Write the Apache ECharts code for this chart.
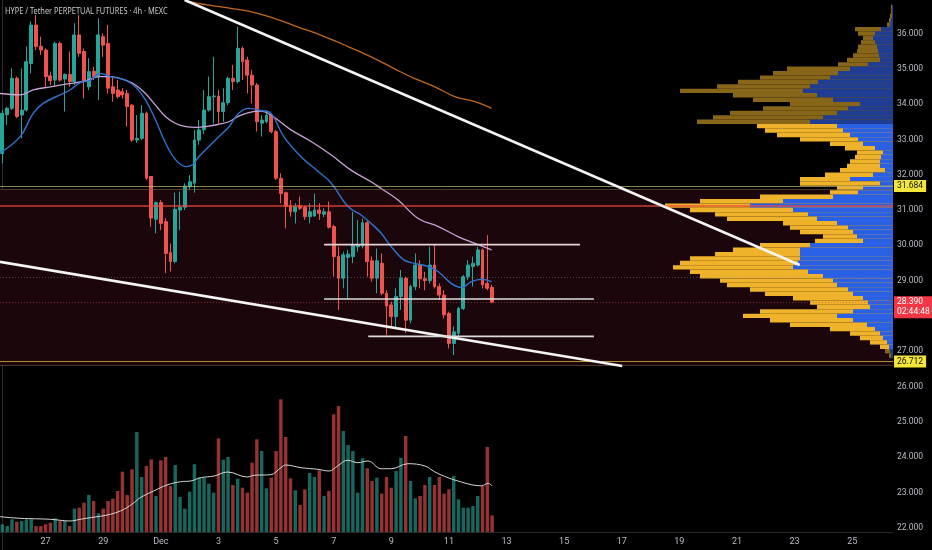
<!DOCTYPE html>
<html><head><meta charset="utf-8">
<script src="https://cdn.jsdelivr.net/npm/echarts@6/dist/echarts.min.js"></script>
<style>html,body{margin:0;padding:0;background:#000;}#c{width:932px;height:550px;}</style>
</head><body><div id="c"></div>
<script>
// ---- candles (4h bars, first bar = Nov 25 12:00) ----
const opens  = [32.60,33.70,33.88,34.73,33.69,33.83,35.15,36.24,35.64,35.53,34.80,34.68,35.72,34.71,34.84,34.64,35.96,35.49,34.49,34.93,34.78,35.91,35.72,34.49,34.40,34.35,34.30,33.97,32.98,33.03,33.74,31.95,30.74,31.21,30.67,29.79,29.54,31.00,31.08,31.66,31.76,32.98,33.27,33.83,34.21,34.23,33.79,34.04,34.73,34.64,35.58,35.25,34.82,34.54,33.46,33.50,33.69,33.22,31.90,31.49,31.12,30.95,31.12,31.08,30.81,30.83,31.00,30.88,30.95,30.53,29.68,29.07,29.66,29.68,29.96,29.98,30.64,29.56,29.07,29.49,28.64,28.31,27.98,28.55,29.07,27.88,28.83,29.44,29.05,29.00,29.44,28.83,28.59,28.07,27.22,27.51,28.21,29.11,29.40,29.44,29.87,28.92,28.81];
const closes = [33.74,33.88,34.73,33.65,33.83,35.20,36.24,35.63,35.53,34.78,34.66,35.72,34.68,34.84,34.64,35.96,35.44,34.64,34.92,34.78,35.96,35.67,34.45,34.30,34.21,34.26,33.93,32.98,33.03,33.74,31.90,30.77,31.21,30.62,29.77,29.54,31.02,31.08,31.68,31.80,32.98,33.27,33.83,34.21,34.23,33.79,34.04,34.73,34.64,35.58,35.20,34.82,34.54,33.50,33.55,33.69,33.22,31.90,31.47,31.10,30.95,31.10,31.05,30.81,30.95,31.00,30.90,30.95,30.51,29.68,29.07,29.73,29.75,30.01,30.01,30.64,29.54,29.07,29.56,28.64,28.28,27.98,28.55,29.07,27.88,28.83,29.44,29.05,29.00,29.44,28.83,28.59,28.03,27.22,27.55,28.21,29.11,29.44,29.49,29.87,28.88,28.78,28.39];
const lows   = [32.32,33.41,33.83,33.60,33.03,33.79,34.87,35.53,35.39,34.49,34.54,34.49,34.64,33.79,34.49,34.54,35.34,34.16,34.40,34.68,34.12,35.34,34.30,34.07,34.16,34.16,33.36,32.93,32.90,32.98,31.85,30.53,30.34,30.43,29.21,29.26,29.49,30.43,31.00,31.57,31.49,32.85,33.15,33.79,33.45,33.45,33.50,33.97,34.40,34.59,34.68,34.30,34.02,33.22,33.08,33.45,33.17,31.85,31.19,30.48,30.81,30.62,31.00,30.72,30.62,30.81,30.72,30.80,30.48,29.11,28.17,28.78,28.50,29.49,29.82,29.91,29.11,28.97,28.64,28.59,27.46,27.70,27.65,28.17,27.51,27.79,28.73,28.78,28.73,28.92,28.78,28.45,27.93,27.08,26.89,27.41,28.17,29.02,28.83,29.40,28.78,28.73,28.36];
const highs  = [33.83,33.93,35.01,34.78,35.01,35.63,36.34,36.52,35.91,35.58,34.92,35.77,35.77,34.87,35.49,36.29,36.52,35.58,35.30,35.06,36.43,36.00,36.24,34.78,34.68,34.45,34.40,34.00,33.69,33.97,33.79,31.95,31.24,31.28,30.77,30.05,31.49,31.52,31.76,31.99,33.27,33.55,34.40,34.78,35.34,34.40,34.45,34.78,35.11,36.19,35.63,35.34,34.97,34.60,33.69,33.83,33.74,33.27,32.04,31.52,31.28,31.19,31.38,31.12,31.19,31.47,31.19,31.05,31.24,30.58,29.96,29.82,29.87,30.95,30.72,30.76,30.72,29.68,29.91,29.77,28.73,28.40,28.78,29.30,29.11,28.88,29.77,29.58,29.25,29.96,30.01,28.92,28.73,28.12,27.70,28.26,29.16,29.58,29.68,29.96,29.91,30.29,28.88];
const volumes = [7.7,6,12.7,10.3,11,12.7,12.7,6,6,7.7,9.3,13.7,11,11,6,23.3,24.3,29.3,37,31,18.7,23.3,31,33.3,41,60.3,37,62.7,100,55,66,72.7,36,71.7,75,46,67,35,23.3,40.3,67.7,54.3,54.3,48.3,39.3,93.7,72.3,75,47,53.3,44.3,39.3,69.3,92.7,81,43.7,54.3,81,132.7,95,53.7,41.7,27,42.7,59,55,61.7,36,41,117.7,126,101,87,81,39.3,73.7,63.7,51,54.3,38.3,55,44.3,61,74.3,96,51,33.7,36,47,55,47,55,38.3,42.7,56,32.7,24.3,24.3,26,36,46,85,16.7];

// ---- indicator lines, read as [bar index, value] ----
const maFast = [[-0.5,32.62],[3.7,33.08],[6.4,33.74],[8.5,34.02],[12.0,34.26],[14.1,34.40],[16.2,34.61],[18.3,34.68],[20.4,34.87],[22.5,34.78],[25.6,34.68],[27.7,34.49],[29.8,34.12],[31.9,33.55],[34.0,32.89],[36.1,32.42],[38.2,32.23],[39.6,32.28],[40.9,32.51],[43.0,32.80],[45.1,33.08],[47.2,33.36],[49.2,33.74],[51.3,33.88],[53.8,33.82],[55.9,33.74],[58.6,33.08],[62.2,32.51],[65.8,32.09],[68.5,31.76],[72.0,31.10],[74.7,30.86],[76.8,30.62],[78.9,30.34],[81.0,29.96],[83.7,29.58],[85.8,29.49],[88.7,29.40],[90.8,29.25],[93.5,28.92],[95.6,28.80],[97.7,28.97],[99.8,29.04],[101.9,28.97]];
const maSlow = [[-0.5,34.30],[3.7,34.26],[6.4,34.40],[10,34.49],[13.5,34.57],[16.8,34.64],[20.4,34.78],[22.5,34.78],[25.6,34.68],[27.7,34.54],[29.8,34.30],[31.9,33.97],[34.0,33.64],[36.1,33.45],[38.2,33.36],[40.3,33.34],[42.3,33.36],[45.1,33.43],[47.2,33.50],[49.2,33.66],[51.3,33.76],[53.8,33.80],[55.9,33.69],[60.1,33.27],[64.3,32.94],[68.5,32.56],[72.6,32.13],[76.8,31.80],[78.9,31.61],[82.4,31.28],[86.6,30.76],[90.8,30.53],[95.0,30.24],[98.3,30.06],[101.9,29.87]];
const maLong = [[38.5,36.92],[42.7,36.81],[47.6,36.71],[51.7,36.62],[56.6,36.43],[61.5,36.19],[67.1,35.91],[72.0,35.63],[76.8,35.34],[81.7,35.00],[85.9,34.72],[90.1,34.49],[94.2,34.21],[98.4,34.07],[101.9,33.88]];
const volMa = [[-0.5,15.3],[3.7,13.7],[10,12.7],[14.1,11],[16.2,12.7],[18.3,14.3],[22.5,17.7],[25.3,22.7],[27.4,29.3],[28.7,34.3],[31.5,41],[34.3,47],[37.1,50.3],[39.2,51],[41.3,54.3],[44.1,56],[46.9,60],[51,55],[52.4,56.7],[55.9,57.3],[58,64.3],[59,67],[62.2,64.3],[65.7,62.7],[68.1,61],[69.8,66],[71.9,71.7],[74,69.3],[76.1,71],[78.9,63.3],[81,63.3],[84.5,68.3],[88,66],[90,60.3],[92.8,54.3],[95.6,50],[98.4,46.7],[99.8,46.3],[101.2,48.7],[102,46]];

// ---- drawings ----
const upperTrend = [[37.95,36.95],[166.07,29.44]];
const lowerTrend = [[-0.5,29.53],[129.1,26.58]];
const levelSegA = [[67.0,30.02],[120.3,30.02]];
const levelSegB = [[67.0,28.48],[123.2,28.48]];
const levelSegC = [[76.2,27.42],[123.2,27.42]];
const zoneTop = 31.59, zoneBottom = 26.60;
const levelHigh = 31.684, levelLow = 26.712, pocLine = 31.11, lastPrice = 28.39, prevLine = 29.10;
const countdown = '02:44:48';

// ---- volume profile (rows from 36.75 downward, step 0.125) ----
const profileTop = 36.75, profileStep = 0.125;
const profileTotal = [2,2,3,4,6,38,35,30,32,35,36,40,46,55,106,120,133,155,176,213,160,140,103,130,163,180,196,136,128,116,93,63,48,36,38,43,46,53,68,93,93,56,63,133,193,228,203,178,166,110,103,93,70,78,133,160,178,203,213,220,203,193,173,166,143,128,100,83,76,133,150,123,103,63,43,33,23,13,8,4];
const profileUp    = [1,1,1,2,3,12,18,20,18,16,15,14,13,25,43,55,63,75,83,90,76,60,33,45,56,70,83,56,50,43,35,30,18,10,12,13,13,8,20,43,13,30,35,60,110,143,100,85,76,56,45,40,36,30,83,93,93,93,95,100,85,70,60,56,45,40,30,25,23,40,56,40,26,18,13,10,6,4,3,2];
const vaHigh = 33.40, vaLow = 27.05;

// ---- time axis ----
const tickLabels = ['27','29','Dec','3','5','7','9','11','13','15','17','19','21','23','25'];
const slots = 186, firstTick = 9, ticksEvery = 12;
const cats = [];
for (let i = 0; i < slots; i++) cats.push('');
tickLabels.forEach((t, k) => { cats[firstTick + k * ticksEvery] = t; });

const UP = '#26a69a', DOWN = '#ef5350';
const candleData = opens.map((o, i) => [o, closes[i], lows[i], highs[i]]);
const volData = volumes.map((v, i) => ({
  value: v,
  itemStyle: { color: closes[i] >= opens[i] ? 'rgba(38,166,154,0.62)' : 'rgba(239,83,80,0.62)' }
}));
const profileData = profileTotal.map((t, k) => {
  const p = profileTop - k * profileStep;
  return [p, profileUp[k], t, (p <= vaHigh && p >= vaLow) ? 1 : 0];
});

const chart = echarts.init(document.getElementById('c'));
const F = 'Roboto, "Noto Sans", sans-serif';
const lineLbl = (txt, bg, fg, dy) => ({
  show: true, position: 'end', formatter: txt, distance: 1, offset: [0, dy || 0],
  backgroundColor: bg, color: fg, fontSize: 8.5, fontFamily: F, padding: [1, 3, 1, 3], lineHeight: 10
});

chart.setOption({
  backgroundColor: '#000',
  animation: false,
  graphic: [{
    type: 'text', x: 5, y: 6, z: 100, scaleX: 0.78,
    style: { text: 'HYPE / Tether PERPETUAL FUTURES · 4h · MEXC', fill: '#c9c9c9', font: '9.5px "Noto Sans", sans-serif' }
  }],
  grid: [
    { left: 0, right: 39, top: -1.8, bottom: -13, outerBoundsMode: 'none', containLabel: false },
    { left: 0, right: 39, top: 380, bottom: 18, outerBoundsMode: 'none', containLabel: false },
    { left: 650, right: 39, top: -1.8, bottom: -13, outerBoundsMode: 'none', containLabel: false }
  ],
  xAxis: [
    { type: 'category', gridIndex: 0, data: cats, show: false, boundaryGap: true },
    { type: 'value', gridIndex: 0, min: -0.5, max: slots - 0.5, show: false },
    { type: 'category', gridIndex: 1, data: cats, boundaryGap: true,
      axisLine: { show: true, lineStyle: { color: '#2a2a2a' } }, axisTick: { show: false },
      axisLabel: { color: '#b8bcc6', fontSize: 9, fontFamily: F, margin: 5,
        interval: (idx, val) => val !== '' } },
    { type: 'value', gridIndex: 1, min: -0.5, max: slots - 0.5, show: false },
    { type: 'value', gridIndex: 2, min: 0, max: 243, inverse: true, show: false }
  ],
  yAxis: [
    { type: 'value', gridIndex: 0, position: 'right', min: 21, max: 37, interval: 1,
      axisLine: { show: true, lineStyle: { color: '#2a2e39' } }, axisTick: { show: false },
      splitLine: { show: false },
      axisLabel: { color: '#b8bcc6', fontSize: 8.5, fontFamily: F, margin: 4,
        formatter: v => (v < 22 || v > 36) ? '' : v.toFixed(3) } },
    { type: 'value', gridIndex: 1, min: 0, max: 152, show: false },
    { type: 'value', gridIndex: 2, min: 21, max: 37, show: false }
  ],
  series: [
    { type: 'line', xAxisIndex: 1, yAxisIndex: 0, data: [], z: 1, silent: true,
      markArea: { silent: true, itemStyle: { color: '#1b070b' },
        data: [[{ yAxis: zoneTop }, { yAxis: zoneBottom }]] },
      markLine: { silent: true, symbol: ['none', 'none'], animation: false,
        data: [
          { yAxis: zoneTop, lineStyle: { color: 'rgba(120,100,70,0.55)', width: 1, type: 'solid' }, label: { show: false } },
          { yAxis: zoneBottom, lineStyle: { color: 'rgba(120,100,70,0.55)', width: 1, type: 'solid' }, label: { show: false } },
          { yAxis: prevLine, lineStyle: { color: 'rgba(140,140,140,0.45)', width: 1, type: [1, 2] }, label: { show: false } },
          { yAxis: lastPrice, lineStyle: { color: 'rgba(242,54,69,0.55)', width: 1, type: [1, 2] },
            label: lineLbl(lastPrice.toFixed(3) + '\n' + countdown, '#f23645', '#fff', 5) }
        ] } },
    { type: 'custom', xAxisIndex: 4, yAxisIndex: 2, z: 2, silent: true, data: profileData,
      encode: { x: 2, y: 0 },
      renderItem: function (params, api) {
        const p = api.value(0), up = api.value(1), tot = api.value(2), va = api.value(3);
        const a = api.coord([0, p + profileStep / 2]);
        const b = api.coord([tot, p - profileStep / 2]);
        const c = api.coord([up, p - profileStep / 2]);
        const h = b[1] - a[1];
        return { type: 'group', children: [
          { type: 'rect', shape: { x: b[0], y: a[1], width: a[0] - b[0], height: h }, style: { fill: va ? '#eeb22b' : '#876619' } },
          { type: 'rect', shape: { x: c[0], y: a[1], width: a[0] - c[0], height: h }, style: { fill: va ? '#2a60e4' : '#1f3d92' } }
        ] };
      } },
    { type: 'candlestick', xAxisIndex: 0, yAxisIndex: 0, z: 3, data: candleData, barWidth: '70%',
      itemStyle: { color: UP, color0: DOWN, borderColor: UP, borderColor0: DOWN, borderWidth: 1 } },
    { type: 'line', xAxisIndex: 1, yAxisIndex: 0, z: 4, data: maLong, smooth: 0.4, showSymbol: false,
      lineStyle: { color: '#c2681c', width: 1.3 } },
    { type: 'line', xAxisIndex: 1, yAxisIndex: 0, z: 4, data: maSlow, smooth: 0.4, showSymbol: false,
      lineStyle: { color: '#c9a2d8', width: 1.3 } },
    { type: 'line', xAxisIndex: 1, yAxisIndex: 0, z: 4, data: maFast, smooth: 0.4, showSymbol: false,
      lineStyle: { color: '#2f74d0', width: 1.4 } },
    { type: 'line', xAxisIndex: 1, yAxisIndex: 0, data: [], z: 5, silent: true,
      markLine: { silent: true, symbol: ['none', 'none'], animation: false,
        data: [
          { yAxis: levelHigh, lineStyle: { color: 'rgba(190,185,110,0.7)', width: 1.2, type: 'solid' },
            label: lineLbl(levelHigh.toFixed(3), '#f2e63a', '#111', 0) },
          { yAxis: pocLine, lineStyle: { color: 'rgba(235,70,60,0.85)', width: 1.6, type: 'solid' }, label: { show: false } },
          { yAxis: levelLow, lineStyle: { color: 'rgba(220,175,60,0.8)', width: 1.2, type: 'solid' },
            label: lineLbl(levelLow.toFixed(3), '#f2e63a', '#111', 0) }
        ] } },
    { type: 'line', xAxisIndex: 1, yAxisIndex: 0, z: 6, data: upperTrend, showSymbol: false,
      lineStyle: { color: '#f4f4f4', width: 2.6 } },
    { type: 'line', xAxisIndex: 1, yAxisIndex: 0, z: 6, data: lowerTrend, showSymbol: false,
      lineStyle: { color: '#f4f4f4', width: 2.6 } },
    { type: 'line', xAxisIndex: 1, yAxisIndex: 0, z: 6, data: levelSegA, showSymbol: false,
      lineStyle: { color: '#e6d3d6', width: 1.6 } },
    { type: 'line', xAxisIndex: 1, yAxisIndex: 0, z: 6, data: levelSegB, showSymbol: false,
      lineStyle: { color: '#dcdcdc', width: 1.6 } },
    { type: 'line', xAxisIndex: 1, yAxisIndex: 0, z: 6, data: levelSegC, showSymbol: false,
      lineStyle: { color: '#dcdcdc', width: 1.6 } },
    { type: 'bar', xAxisIndex: 2, yAxisIndex: 1, z: 2, data: volData, barWidth: '72%' },
    { type: 'line', xAxisIndex: 3, yAxisIndex: 1, z: 3, data: volMa, smooth: 0.4, showSymbol: false,
      lineStyle: { color: '#d6d6d6', width: 1 } }
  ]
});
</script></body></html>
